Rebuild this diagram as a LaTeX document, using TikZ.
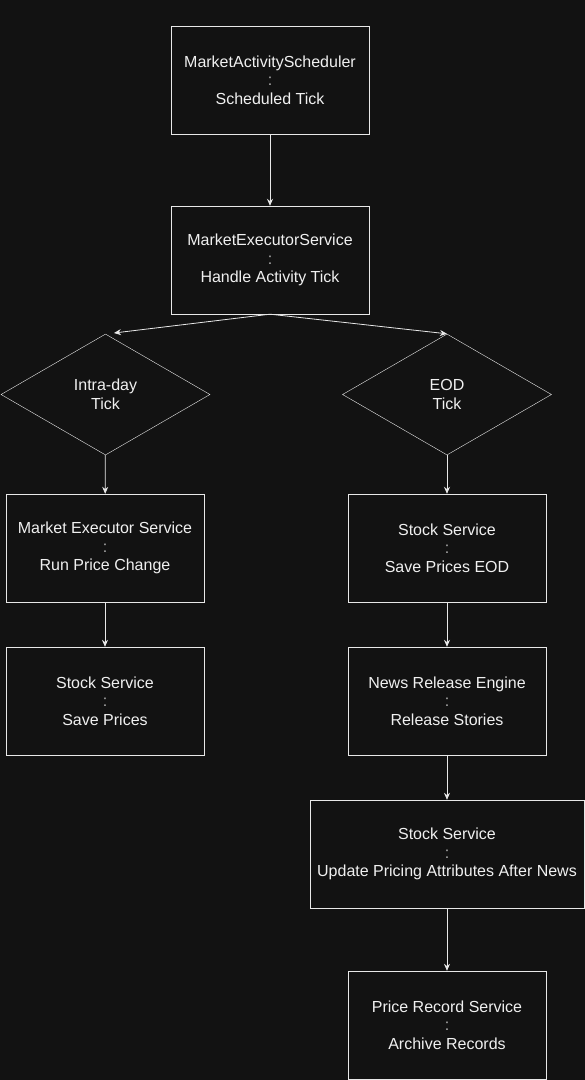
\documentclass[tikz,border=0pt]{standalone}
\usepackage{fontspec}
\setmainfont{Liberation Sans}
\usepackage{tikz}
\usetikzlibrary{shapes.geometric, arrows.meta}

\definecolor{bgdark}{HTML}{121212}
\definecolor{lineclr}{HTML}{E8E8E8}
\definecolor{textclr}{HTML}{F0F0F0}
\definecolor{colonclr}{HTML}{B0B0B0}

\newcommand{\steptext}[2]{#1\\{\color{colonclr}:}\\#2}

\tikzset{
    stepbox/.style={draw=lineclr, fill=bgdark, text=textclr, rectangle, align=center,
        minimum width=198pt, minimum height=108pt, inner sep=2pt,
        font=\fontsize{16}{18.5}\selectfont},
    decision/.style={draw=lineclr, fill=bgdark, text=textclr, diamond, align=center,
        minimum width=209pt, minimum height=121pt, inner sep=0pt,
        font=\fontsize{16}{18.5}\selectfont},
    flow/.style={draw=lineclr, line width=0.8pt, -{Stealth[length=7pt,width=6pt]}}
}

\begin{document}
\begin{tikzpicture}[x=1pt, y=-1pt]
        \fill[bgdark] (0,0) rectangle (585,1080);
        \useasboundingbox (0,0) rectangle (585,1080);

        % top of the chain
        \node[stepbox] (scheduler) at (270,80) {\steptext{MarketActivityScheduler}{Scheduled Tick}};
        \node[stepbox] (executor) at (270,260) {\steptext{MarketExecutorService}{Handle Activity Tick}};

        % the two kinds of tick
        \node[decision] (intraday) at (105.5,394.5) {Intra-day\\Tick};
        \node[decision] (eod) at (447,394.5) {EOD\\Tick};

        % intra-day branch
        \node[stepbox] (runchange) at (105,548) {\steptext{Market Executor Service}{Run Price Change}};
        \node[stepbox] (saveprices) at (105,701) {\steptext{Stock Service}{Save Prices}};

        % end of day branch
        \node[stepbox] (saveeod) at (447,548) {\steptext{Stock Service}{Save Prices EOD}};
        \node[stepbox] (news) at (447,701) {\steptext{News Release Engine}{Release Stories}};
        \node[stepbox, minimum width=274pt] (pricing) at (447,854) {\steptext{Stock Service}{Update Pricing Attributes After News}};
        \node[stepbox] (archive) at (447,1025) {\steptext{Price Record Service}{Archive Records}};

        \coordinate (intratop) at (114,333);

        \draw[flow] (scheduler) -- (executor);
        \draw[flow] (executor.south) -- (intratop);
        \draw[flow] (executor.south) -- (eod.north);
        \draw[flow] (intraday) -- (runchange);
        \draw[flow] (runchange) -- (saveprices);
        \draw[flow] (eod) -- (saveeod);
        \draw[flow] (saveeod) -- (news);
        \draw[flow] (news) -- (pricing);
        \draw[flow] (pricing) -- (archive);
    \end{tikzpicture}
\end{document}
